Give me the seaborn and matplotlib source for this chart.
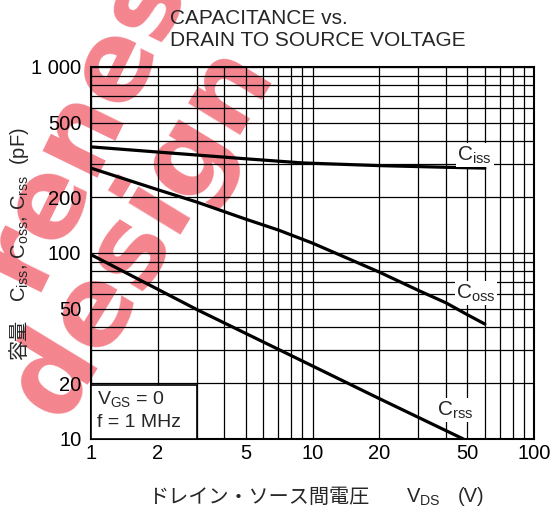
"""
Capacitance vs. drain to source voltage (log-log chart with watermark).
"""

import numpy as np
import pandas as pd
import matplotlib
matplotlib.use('Agg')
import matplotlib.pyplot as plt
from matplotlib.patches import Rectangle
from matplotlib.ticker import LogLocator, NullFormatter
import seaborn as sns


# data
vds_ciss = [1, 2, 5, 9, 20, 40, 60]
ciss = [372, 349, 321, 305, 295, 289, 286]

vds_coss = [1, 2, 3, 5, 7, 10, 20, 30, 40, 50, 60]
coss = [286, 219, 188, 152, 133, 113, 79, 63, 54, 46.6, 41.5]

vds_crss = [1, 3, 8.8, 20, 48]
crss = [98, 49.7, 26.6, 16.5, 10]

x_ticks = [1, 2, 5, 10, 20, 50, 100]
x_labels = ['1', '2', '5', '10', '20', '50', '100']
y_ticks = [10, 20, 50, 100, 200, 500, 1000]
y_labels = ['10', '20', '50', '100', '200', '500', '1 000']

W, H = 553, 514
CJK = ['Noto Sans CJK JP', 'DejaVu Sans']


def px(x, y):
    return x / W, 1 - y / H


def watermark(fig, word, center, angle):
    fig.text(*px(*center), word, rotation=angle, ha='center', va='center',
             rotation_mode='anchor', fontsize=79, fontweight='bold',
             family='DejaVu Sans', color='#ee3344', alpha=0.6, zorder=-1)


def main():
    sns.set_style('white')
    plt.rcParams['font.family'] = ['Liberation Sans', 'DejaVu Sans']
    plt.rcParams['mathtext.fontset'] = 'custom'
    plt.rcParams['mathtext.rm'] = 'Liberation Sans'
    plt.rcParams['mathtext.default'] = 'rm'

    df = pd.concat([
        pd.DataFrame({'vds': vds_ciss, 'cap': ciss, 'series': 'Ciss'}),
        pd.DataFrame({'vds': vds_coss, 'cap': coss, 'series': 'Coss'}),
        pd.DataFrame({'vds': vds_crss, 'cap': crss, 'series': 'Crss'}),
    ], ignore_index=True)

    fig = plt.figure(figsize=(W / 100, H / 100), dpi=100)
    fig.patch.set_facecolor('white')
    ax = fig.add_axes([91 / W, 75 / H, 443 / W, 372 / H])
    ax.set_facecolor('none')

    sns.lineplot(data=df, x='vds', y='cap', hue='series', palette=['black'] * 3,
                 linewidth=2.3, legend=False, estimator=None, sort=False, ax=ax, zorder=4)

    ax.set_xscale('log')
    ax.set_yscale('log')
    ax.set_xlim(1, 100)
    ax.set_ylim(10, 1000)
    ax.set_xticks(x_ticks, x_labels)
    ax.set_yticks(y_ticks, y_labels)
    for axis in (ax.xaxis, ax.yaxis):
        axis.set_minor_locator(LogLocator(base=10, subs=np.arange(2, 10)))
        axis.set_minor_formatter(NullFormatter())
    ax.grid(which='both', color='black', linewidth=0.9)
    ax.tick_params(which='both', length=0, labelsize=14.5, colors='black')
    ax.tick_params(axis='x', pad=3.5)
    ax.tick_params(axis='y', pad=7)
    ax.set_xlabel('')
    ax.set_ylabel('')
    for sp in ax.spines.values():
        sp.set_color('black')
        sp.set_linewidth(1.5)

    # curve labels
    lab = dict(ha='center', va='center', fontsize=15, zorder=5,
               bbox=dict(facecolor='white', edgecolor='none', pad=1))
    ax.text(54, 336, 'C$_{iss}$', **lab)
    ax.text(54.7, 61, 'C$_{oss}$', **lab)
    ax.text(44, 14.3, 'C$_{rss}$', **lab)

    # conditions box
    ax.add_patch(Rectangle((0, 0), 0.239, 0.145, transform=ax.transAxes,
                           facecolor='white', edgecolor='black', linewidth=1.2, zorder=3))
    ax.text(0.013, 0.108, 'V$_{GS}$ = 0', transform=ax.transAxes, fontsize=14,
            ha='left', va='center', zorder=5)
    ax.text(0.013, 0.045, 'f = 1 MHz', transform=ax.transAxes, fontsize=14,
            ha='left', va='center', zorder=5)

    # title and axis labels
    fig.text(*px(170, 23.5), 'CAPACITANCE vs.', fontsize=15, ha='left', va='baseline')
    fig.text(*px(170, 45.5), 'DRAIN TO SOURCE VOLTAGE', fontsize=15, ha='left', va='baseline')

    fig.text(*px(148, 497), 'ドレイン・ソース間電圧', fontsize=14.5, family=CJK,
             ha='left', va='center')
    fig.text(*px(406, 497), 'V$_{DS}$', fontsize=14.5, ha='left', va='center')
    fig.text(*px(458, 497), '(V)', fontsize=14.5, ha='left', va='center')

    fig.text(*px(20, 340), '容量', fontsize=14.5, family=CJK, rotation=90,
             ha='center', va='center')
    fig.text(*px(20, 215), 'C$_{iss}$, C$_{oss}$, C$_{rss}$  (pF)', fontsize=14.5,
             rotation=90, ha='center', va='center')

    # watermark
    watermark(fig, 'renesas', (112, 60), 64)
    watermark(fig, 'design', (142, 232), 58.6)

    fig.savefig('out.png', dpi=100)
    plt.close(fig)


if __name__ == '__main__':
    main()
